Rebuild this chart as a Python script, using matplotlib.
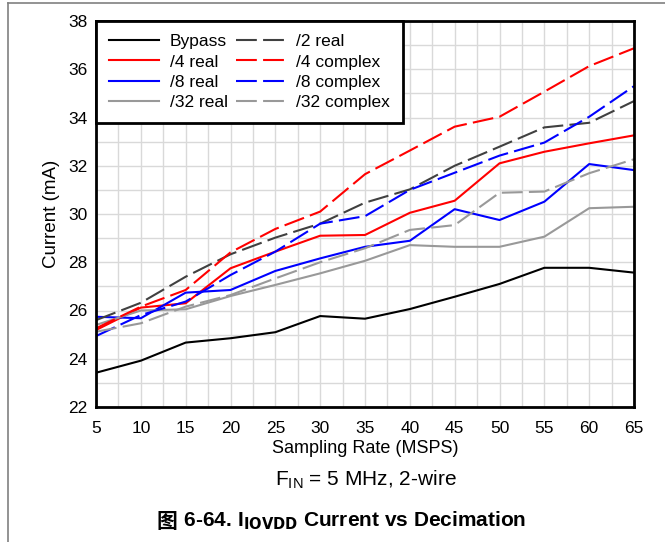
import matplotlib.pyplot as plt
from matplotlib.lines import Line2D
import numpy as np

rate = [5, 10, 15, 20, 25, 30, 35, 40, 45, 50, 55, 60, 65]

bypass = [23.42, 23.92, 24.67, 24.85, 25.10, 25.77, 25.66, 26.06, 26.57, 27.10, 27.77, 27.77, 27.57]
dec2_real = [25.60, 26.32, 27.40, 28.33, 29.02, 29.60, 30.47, 31.02, 32.00, 32.79, 33.59, 33.78, 34.68]
dec4_real = [25.19, 26.12, 26.30, 27.75, 28.44, 29.10, 29.13, 30.05, 30.55, 32.10, 32.58, 32.93, 33.26]
dec4_complex = [25.26, 26.16, 26.85, 28.41, 29.38, 30.10, 31.65, 32.63, 33.62, 34.03, 35.07, 36.13, 36.87]
dec8_real = [25.74, 25.68, 26.74, 26.85, 27.64, 28.16, 28.64, 28.89, 30.20, 29.75, 30.51, 32.07, 31.82]
dec8_complex = [24.94, 25.81, 26.37, 27.47, 28.44, 29.60, 29.91, 31.00, 31.71, 32.42, 32.96, 34.03, 35.30]
dec32_real = [25.40, 26.00, 26.05, 26.60, 27.06, 27.54, 28.06, 28.71, 28.64, 28.64, 29.06, 30.24, 30.30]
dec32_complex = [25.12, 25.47, 26.16, 26.64, 27.33, 28.00, 28.58, 29.34, 29.54, 30.88, 30.93, 31.69, 32.27]

plt.rcParams['font.family'] = ['Liberation Sans', 'Noto Sans CJK SC']

fig = plt.figure(figsize=(6.65, 5.42), dpi=100)
ax = fig.add_axes([96 / 665, 1 - 407 / 542, 538 / 665, 386 / 542])

dash = (10, 3)
lw = 1.5
series = [
    (bypass, 'black', None, 'Bypass'),
    (dec4_real, '#ff0000', None, '/4 real'),
    (dec8_real, '#0000ff', None, '/8 real'),
    (dec32_real, '#999999', None, '/32 real'),
    (dec2_real, '#404040', dash, '/2 real'),
    (dec4_complex, '#ff0000', dash, '/4 complex'),
    (dec8_complex, '#0000ff', dash, '/8 complex'),
    (dec32_complex, '#999999', dash, '/32 complex'),
]
handles = []
for vals, col, ds, lab in series:
    line, = ax.plot(rate, vals, color=col, lw=lw, label=lab)
    if ds:
        line.set_dashes(ds)
    handles.append(line)

ax.set_xlim(5, 65)
ax.set_ylim(22, 38)
ax.set_xticks(np.arange(5, 66, 5))
ax.set_xticks(np.arange(5, 66, 2.5), minor=True)
ax.set_yticks(np.arange(22, 39, 2))
ax.set_yticks(np.arange(22, 39, 1), minor=True)
ax.grid(True, which='both', color='#d9d9d9', lw=1.0)
ax.set_axisbelow(True)
ax.tick_params(which='both', length=0, labelsize=12.5)
ax.tick_params(axis='y', pad=6)
ax.tick_params(axis='x', pad=10)
for s in ax.spines.values():
    s.set_linewidth(2)
ax.set_xlabel('Sampling Rate (MSPS)', fontsize=13, labelpad=3)
ax.set_ylabel('Current (mA)', fontsize=13.5, labelpad=6)

leg = ax.legend(handles=handles, ncol=2, loc='upper left', fontsize=12.5,
                borderaxespad=0, fancybox=False, framealpha=1,
                handlelength=2.9, handletextpad=0.6, columnspacing=0.45,
                labelspacing=0.3, borderpad=0.75)
leg.get_frame().set_edgecolor('black')
leg.get_frame().set_linewidth(2)

fig.text(366 / 665, 1 - 480 / 542, r'F$_{\mathregular{IN}}$ = 5 MHz, 2-wire',
         ha='center', va='center', fontsize=15)

# caption: CJK glyph drawn separately since mathtext has no font fallback
cap = fig.text(526 / 665, 1 - 521 / 542, r' 6-64. I$_{\mathbf{IOVDD}}$ Current vs Decimation',
               ha='right', va='center', fontsize=15, fontweight='bold')
fig_char = fig.text(0, 1 - 521 / 542, '图', ha='right', va='center',
                    fontsize=15, fontweight='bold', family='Noto Sans CJK SC')
r = fig.canvas.get_renderer()
x_left = cap.get_window_extent(r).x0
fig_char.set_x(x_left / fig.bbox.width)

# page border lines
fig.add_artist(Line2D([8 / 665, 8 / 665], [0, 1 - 3 / 542], color='#808080', lw=1.2))
fig.add_artist(Line2D([8 / 665, 1], [1 - 3 / 542, 1 - 3 / 542], color='#808080', lw=1.2))

fig.savefig('out.png', dpi=100)
